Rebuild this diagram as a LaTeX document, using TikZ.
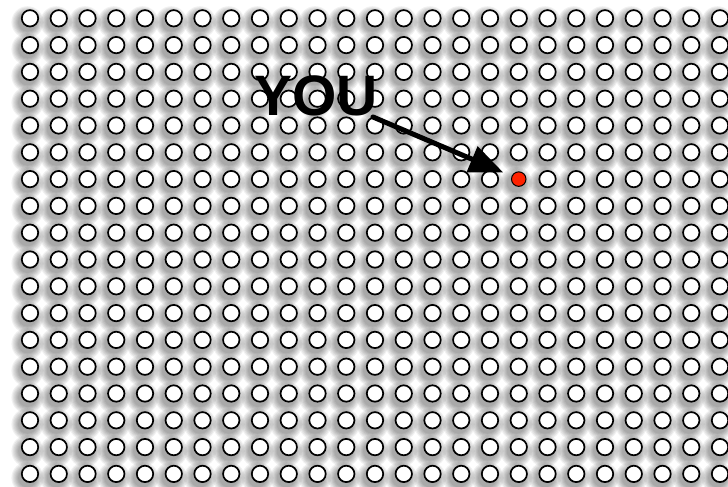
\documentclass[tikz,border=0pt]{standalone}
\usepackage{fontspec}
\newfontfamily\youfont{Liberation Sans}
\usetikzlibrary{arrows.meta}
\definecolor{dotred}{RGB}{255,34,0}

\begin{document}
\begin{tikzpicture}[x=1pt, y=-1pt,
    spotshadow/.style={fill=black, fill opacity=0.055},
    spot/.style={circle, draw=black, line width=1.7pt, fill=white, minimum size=16.4pt, inner sep=0pt},
    youspot/.style={spot, fill=dotred, line width=1pt, minimum size=14.5pt},
    youarrow/.style={line width=5pt, line cap=round, -{Triangle[length=34pt, width=27pt]}, shorten >=9pt}]
  \useasboundingbox[fill=white] (0,0) rectangle (728,487);
  % Soft shadows under the grid
  \foreach \i in {0,...,24} {
    \foreach \j in {0,...,17} {
      \foreach \r in {9.5,10.6,11.7,12.8,13.9,15,16.1} {
        \fill[spotshadow] (27.5+28.75*\i, 22.3+26.8*\j) circle (\r pt);
      }
    }
  }
  % Grid of people
  \foreach \i in {0,...,24} {
    \foreach \j in {0,...,17} {
      \ifnum\i=17 \ifnum\j=6 \else
        \node[spot] (c-\i-\j) at (30+28.75*\i, 18.3+26.8*\j) {};
      \fi \else
        \node[spot] (c-\i-\j) at (30+28.75*\i, 18.3+26.8*\j) {};
      \fi
    }
  }
  % The one that is you
  \node[youspot] (dot) at (30+28.75*17, 18.3+26.8*6) {};
  % Label and pointer
  \node[anchor=base west, inner sep=0pt, font=\youfont\bfseries\fontsize{57}{60}\selectfont] (you) at (254,115) {YOU};
  \coordinate (tail) at (373,117);
  \draw[youarrow] (tail) -- (dot);
\end{tikzpicture}
\end{document}
